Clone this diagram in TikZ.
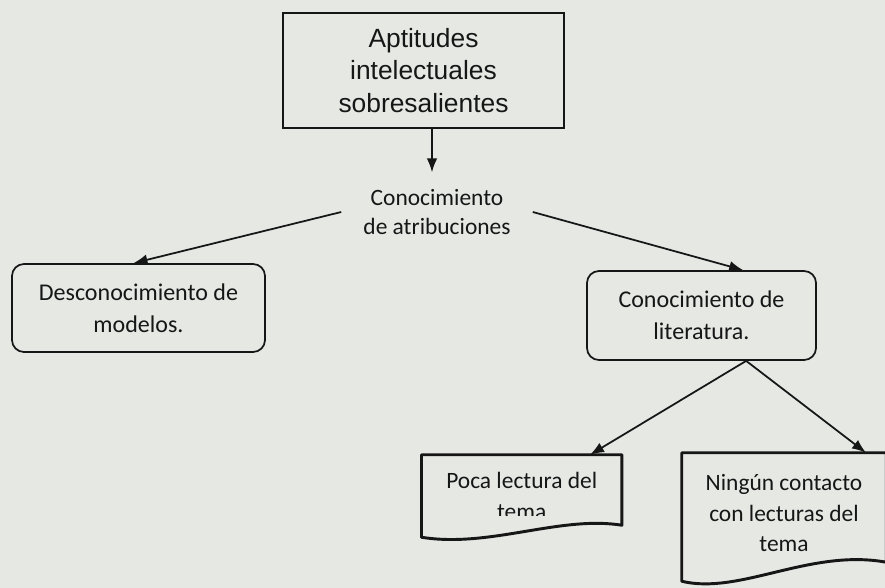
\documentclass[tikz,border=0pt]{standalone}
\usepackage{fontspec}
\setmainfont{Carlito}
\newfontfamily\arialfont{Liberation Sans}
\usepackage{xcolor}
\usetikzlibrary{arrows.meta, positioning, calc}
\definecolor{pagegray}{RGB}{230,232,228}
\definecolor{inkblack}{RGB}{22,22,22}
\tikzset{
    mainbox/.style={
        rectangle,
        draw=inkblack,
        text=inkblack,
        line width=1.7pt,
        minimum width=8.43cm,
        minimum height=3.45cm,
        align=center,
        font=\arialfont\fontsize{22.5}{28}\selectfont,
    },
    softbox/.style={
        rectangle,
        rounded corners=0.36cm,
        draw=inkblack,
        text=inkblack,
        line width=1.5pt,
        align=center,
        font=\fontsize{20.5}{27}\selectfont,
    },
    docbox/.style={
        rectangle,
        text=inkblack,
        align=center,
        font=\fontsize{20}{26}\selectfont,
    },
    docline/.style={
        draw=inkblack,
        line width=2.5pt,
        line join=round,
    },
    link/.style={
        ->,
        draw=inkblack,
        line width=1.5pt,
    },
}

\begin{document}
\begin{tikzpicture}[x=0.03cm, y=-0.03cm, >={Latex[length=0.42cm, width=0.32cm]}]
      \clip (0,0) rectangle (885,588);
      \fill[pagegray] (0,0) rectangle (885,588);

      \node[mainbox] (apt) at (423.5,70.5) {Aptitudes\\intelectuales\\sobresalientes};

      \node[text=inkblack, align=center, inner xsep=0.66cm, inner ysep=0.5cm,
            font=\fontsize{20}{25}\selectfont] (atr) at (437,212) {Conocimiento\\de atribuciones};

      \node[softbox, minimum width=7.59cm, minimum height=2.64cm] (desc) at (138.5,308) {Desconocimiento de\\modelos.};

      \node[softbox, minimum width=6.87cm, minimum height=2.67cm] (lit) at (701.5,315.5) {Conocimiento de\\literatura.};

      % the second line is cut off in the original
      \begin{scope}
        \clip (421,455) rectangle (622,515);
        \node[docbox, minimum width=6cm, minimum height=2.46cm] (poca) at (521.7,496) {Poca lectura del\\tema};
      \end{scope}

      \node[docbox, minimum width=6.12cm, minimum height=3.84cm, text depth=0.24cm] (ning) at (784,517) {Ningún contacto\\con lecturas del\\tema};

      % wavy document outlines
      \draw[docline] (poca.south west) -- (poca.north west) -- (poca.north east) -- ([yshift=0.36cm]poca.south east)
            .. controls ([xshift=-1.86cm,yshift=0.66cm]poca.south east) and ([xshift=2.04cm,yshift=-0.33cm]poca.south west) .. (poca.south west) -- cycle;
      \draw[docline] (ning.south west) -- (ning.north west) -- (ning.north east) -- ([yshift=0.57cm]ning.south east)
            .. controls ([xshift=-2.28cm,yshift=0.99cm]ning.south east) and ([xshift=1.74cm,yshift=-0.42cm]ning.south west) .. (ning.south west) -- cycle;

      \coordinate (drop) at ([xshift=-0.15cm]atr.north);
      \coordinate (split) at ([xshift=1.34cm]lit.south);

      \draw[link] (drop |- apt.south) -- (drop);
      \draw[link] (atr.west) -- ([xshift=-0.15cm]desc.north);
      \draw[link] (atr.east) -- ([xshift=1.25cm]lit.north);
      \draw[link] (split) -- ([xshift=2.05cm]poca.north);
      \draw[link] (split) -- ([xshift=2.46cm]ning.north);

\end{tikzpicture}
\end{document}
